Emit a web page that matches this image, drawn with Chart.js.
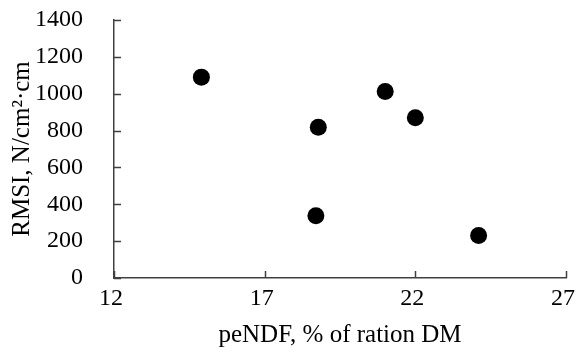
<!DOCTYPE html>
<html>
<head>
<meta charset="utf-8">
<script src="https://cdn.jsdelivr.net/npm/chart.js@4"></script>
<style>
html,body{margin:0;padding:0;background:#fff;}
#wrap{width:576px;height:354px;position:relative;}
</style>
</head>
<body>
<div id="wrap"><canvas id="c" width="576" height="354"></canvas></div>
<script>
const peNDF = [14.9, 18.78, 18.7, 21.0, 22.0, 24.1];
const RMSI = [1090, 818, 338, 1012, 870, 230];
const xTicks = [12, 17, 22, 27];
const yTicks = [0, 200, 400, 600, 800, 1000, 1200, 1400];
const xTitle = 'peNDF, % of ration DM';
const yTitle = 'RMSI, N/cm\u00B2\u00B7cm';

const FONT = "'Liberation Serif', 'Times New Roman', serif";

const inwardTicks = {
  id: 'inwardTicks',
  afterDraw(chart) {
    const ctx = chart.ctx;
    const xs = chart.scales.x, ys = chart.scales.y;
    const L = 7;
    ctx.save();
    ctx.strokeStyle = '#404040';
    ctx.lineWidth = 1.5;
    ctx.beginPath();
    xs.ticks.forEach((t, i) => {
      const px = Math.round(xs.getPixelForTick(i)) + 0.5;
      ctx.moveTo(px, ys.bottom);
      ctx.lineTo(px, ys.bottom - L);
    });
    ys.ticks.forEach((t, i) => {
      const py = Math.round(ys.getPixelForTick(i)) + 0.5;
      ctx.moveTo(xs.left, py);
      ctx.lineTo(xs.left + L, py);
    });
    ctx.stroke();
    ctx.restore();
  }
};

new Chart(document.getElementById('c'), {
  type: 'scatter',
  data: {
    datasets: [{
      data: peNDF.map((x, i) => ({x: x, y: RMSI[i]})),
      backgroundColor: '#000',
      borderColor: '#000',
      borderWidth: 0,
      pointRadius: 8.5,
      pointHoverRadius: 8.5
    }]
  },
  options: {
    responsive: false,
    animation: false,
    layout: {padding: 0},
    plugins: {legend: {display: false}, tooltip: {enabled: false}},
    scales: {
      x: {
        type: 'linear',
        min: 12, max: 27,
        afterBuildTicks: s => { s.ticks = xTicks.map(v => ({value: v})); },
        afterFit: s => { s.height = 76; s.paddingRight = 10; s.paddingLeft = 0; },
        grid: {display: true, drawOnChartArea: false, drawTicks: false},
        border: {display: true, color: '#404040', width: 1.5},
        ticks: {color: '#000', font: {family: FONT, size: 24}, padding: 6, labelOffset: -3, maxRotation: 0, callback: v => String(v)},
        title: {display: true, text: xTitle, color: '#000', font: {family: FONT, size: 25}, padding: {top: 0}}
      },
      y: {
        min: 0, max: 1400,
        afterBuildTicks: s => { s.ticks = yTicks.map(v => ({value: v})); },
        afterFit: s => { s.width = 114; s.paddingTop = 20; s.paddingBottom = 0; },
        grid: {display: true, drawOnChartArea: false, drawTicks: false},
        border: {display: true, color: '#404040', width: 1.5},
        ticks: {color: '#000', font: {family: FONT, size: 24}, padding: 31, callback: v => String(v)},
        title: {display: true, text: yTitle, color: '#000', font: {family: FONT, size: 25}, padding: {top: 7, bottom: 0}}
      }
    }
  },
  plugins: [inwardTicks]
});
</script>
</body>
</html>
